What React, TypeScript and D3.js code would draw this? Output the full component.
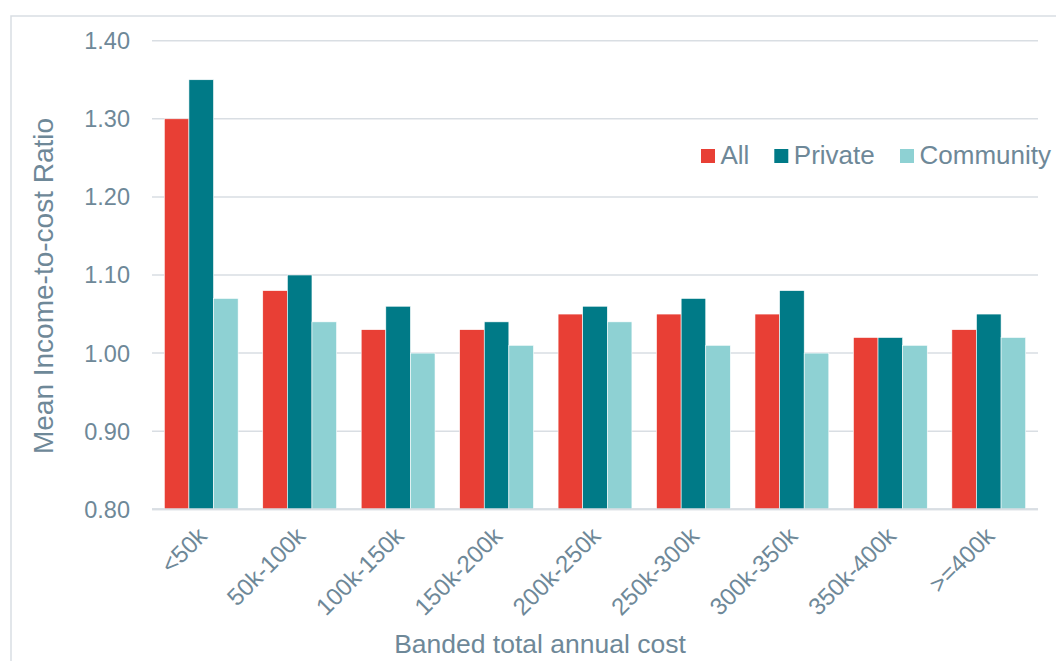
import React from "react";
import * as d3 from "d3";

const categories = ["<50k", "50k-100k", "100k-150k", "150k-200k", "200k-250k", "250k-300k", "300k-350k", "350k-400k", ">=400k"];
const seriesNames = ["All", "Private", "Community"];
const allValues = [1.3, 1.08, 1.03, 1.03, 1.05, 1.05, 1.05, 1.02, 1.03];
const privateValues = [1.35, 1.1, 1.06, 1.04, 1.06, 1.07, 1.08, 1.02, 1.05];
const communityValues = [1.07, 1.04, 1.0, 1.01, 1.04, 1.01, 1.0, 1.01, 1.02];
const yTicks = [0.8, 0.9, 1.0, 1.1, 1.2, 1.3, 1.4];
const colors = ["#E83F35", "#007A87", "#8ED1D3"];

const W = 1056;
const H = 661;
const FONT = "'Liberation Sans', Arial, sans-serif";
const TEXT = "#6E8898";
const GRID = "#D9DEE3";

export default function App() {
  const seriesValues = [allValues, privateValues, communityValues];
  const x = d3.scaleBand<string>().domain(categories).range([152, 1038]).paddingInner(0).paddingOuter(0);
  const inner = d3
    .scaleBand<string>()
    .domain(seriesNames)
    .range([0, x.bandwidth()])
    .paddingInner(0)
    .paddingOuter(0.5);
  const y = d3.scaleLinear().domain([0.8, 1.4]).range([509.3, 40.7]);

  return (
    <svg width={W} height={H} style={{ position: "absolute", left: 0, top: 0, background: "#fff" }} fontFamily={FONT}>
      {/* chart frame */}
      <path d={`M11,${H + 5} V16 H${W + 5}`} fill="none" stroke={GRID} strokeWidth={1.5} />

      {/* gridlines and y tick labels */}
      {yTicks.map((t) => (
        <g key={t}>
          <line x1={152} x2={1038} y1={y(t)} y2={y(t)} stroke={GRID} strokeWidth={t === 0.8 ? 2 : 1.5} />
          <text x={130} y={y(t)} dy="0.36em" textAnchor="end" fontSize={23.5} fill={TEXT}>
            {t.toFixed(2)}
          </text>
        </g>
      ))}

      {/* bars */}
      {categories.map((c, i) => (
        <g key={c} transform={`translate(${x(c)},0)`}>
          {seriesNames.map((s, j) => {
            const v = seriesValues[j][i];
            return (
              <rect
                key={s}
                x={inner(s)}
                y={y(v)}
                width={inner.bandwidth()}
                height={y(0.8) - y(v)}
                fill={colors[j]}
                stroke="#fff"
                strokeWidth={0.6}
              />
            );
          })}
        </g>
      ))}
      <line x1={152} x2={1038} y1={y(0.8)} y2={y(0.8)} stroke={GRID} strokeWidth={2} />

      {/* x tick labels */}
      {categories.map((c) => {
        const cx = (x(c) as number) + x.bandwidth() / 2 + 1;
        return (
          <text
            key={c}
            transform={`translate(${cx},${y(0.8) + 22}) rotate(-45)`}
            textAnchor="end"
            dy="0.36em"
            fontSize={24}
            fill={TEXT}
          >
            {c}
          </text>
        );
      })}

      {/* axis titles */}
      <text
        transform={`translate(53,286) rotate(-90)`}
        textAnchor="middle"
        fontSize={28}
        fill={TEXT}
      >
        Mean Income-to-cost Ratio
      </text>
      <text x={540} y={653} textAnchor="middle" fontSize={26.5} fill={TEXT}>
        Banded total annual cost
      </text>

      {/* legend */}
      {seriesNames.map((s, j) => {
        const lx = [701, 774.3, 900][j];
        return (
          <g key={s}>
            <rect x={lx} y={149} width={14} height={14} fill={colors[j]} />
            <text x={lx + 19.5} y={164.3} fontSize={26} fill={TEXT}>
              {s}
            </text>
          </g>
        );
      })}
    </svg>
  );
}
